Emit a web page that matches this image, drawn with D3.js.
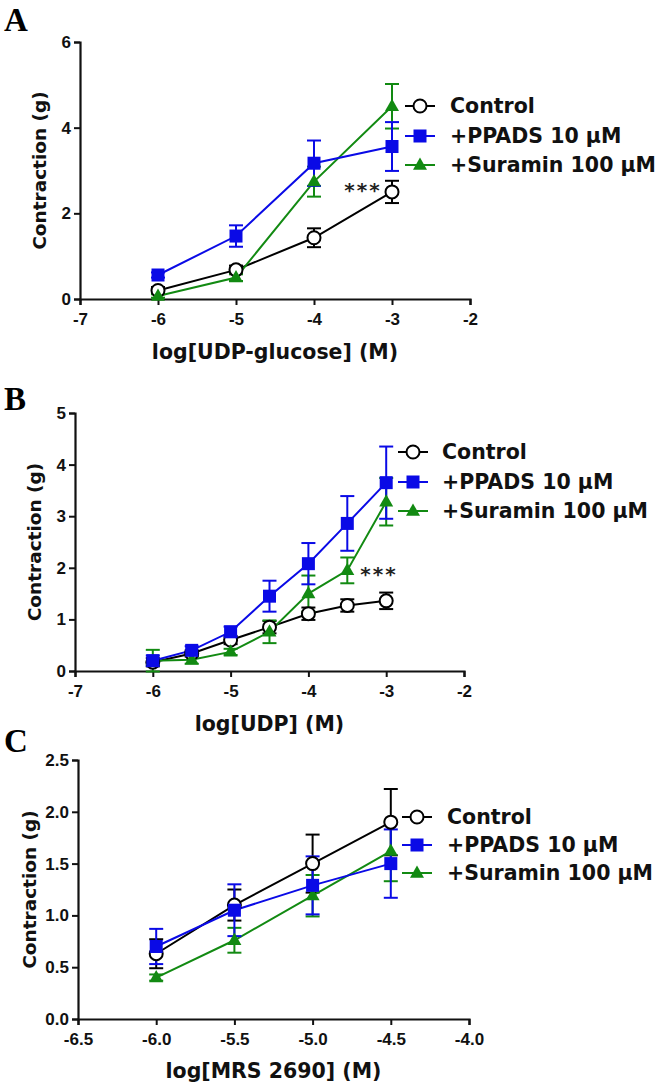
<!DOCTYPE html>
<html><head><meta charset="utf-8">
<script src="https://cdn.jsdelivr.net/npm/d3@7"></script>
<style>body{margin:0;background:#fff}svg{display:block}</style>
</head><body>
<svg id="c" width="670" height="1086"></svg>
<script>
// ---- data ----
const seriesNames = ["Control", "+PPADS 10 µM", "+Suramin 100 µM"];
// Panel A: log[UDP-glucose]
const aX = [-6, -5, -4, -3];
const aControl = [0.2, 0.68, 1.43, 2.5];
const aControlErr = [0.08, 0.1, 0.22, 0.26];
const aPPADS = [0.56, 1.47, 3.17, 3.56];
const aPPADSErr = [0.06, 0.25, 0.53, 0.57];
const aSuramin = [0.07, 0.5, 2.74, 4.5];
const aSuraminErr = [0.04, 0.08, 0.35, 0.52];
const aYTicks = [0, 2, 4, 6];
const aXTicks = [-7, -6, -5, -4, -3, -2];
// Panel B: log[UDP]
const bX = [-6, -5.5, -5, -4.5, -4, -3.5, -3];
const bControl = [0.17, 0.34, 0.6, 0.85, 1.11, 1.27, 1.36];
const bControlErr = [0.08, 0.06, 0.08, 0.12, 0.12, 0.12, 0.16];
const bPPADS = [0.2, 0.4, 0.76, 1.45, 2.08, 2.86, 3.65];
const bPPADSErr = [0.1, 0.08, 0.1, 0.3, 0.4, 0.53, 0.7];
const bSuramin = [0.2, 0.22, 0.37, 0.76, 1.5, 1.95, 3.28];
const bSuraminErr = [0.21, 0.08, 0.06, 0.22, 0.35, 0.25, 0.46];
const bYTicks = [0, 1, 2, 3, 4, 5];
const bXTicks = [-7, -6, -5, -4, -3, -2];
// Panel C: log[MRS 2690]
const cX = [-6, -5.5, -5, -4.5];
const cControl = [0.63, 1.1, 1.5, 1.9];
const cControlErr = [0.14, 0.15, 0.28, 0.32];
const cPPADS = [0.7, 1.05, 1.29, 1.5];
const cPPADSErr = [0.17, 0.25, 0.28, 0.33];
const cSuramin = [0.4, 0.76, 1.19, 1.62];
const cSuraminErr = [0.03, 0.12, 0.2, 0.29];
const cYTicks = [0, 0.5, 1.0, 1.5, 2.0, 2.5];
const cXTicks = [-6.5, -6.0, -5.5, -5.0, -4.5, -4.0];

// ---- layout / styling ----
const colors = ["#000000", "#0a0ae6", "#128a12"];
const shapes = ["circle", "square", "triangle"];
const FONT = "'DejaVu Sans', Verdana, sans-serif";
const TFONT = "'Liberation Sans', Arial, sans-serif";
const svg = d3.select("#c");
const hy = f => v => f(v).replace("\u2212", "-");

const panels = [
  {letter:"A", letterY:31, xDom:[-7,-2], yDom:[0,6], xr:[80,470], yr:[299,42],
   xt:aXTicks, yt:aYTicks, yfmt:hy(d3.format("d")), xfmt:hy(d3.format("d")),
   xTitle:"log[UDP-glucose] (M)", xTitleY:359, yTitleX:40,
   x:aX, s:[[aControl,aControlErr],[aPPADS,aPPADSErr],[aSuramin,aSuraminErr]],
   leg:{x1:405,x2:435,tx:450,ys:[106,136,165]}, star:{x:363,y:197}},
  {letter:"B", letterY:410, xDom:[-7,-2], yDom:[0,5], xr:[75,464], yr:[671,413],
   xt:bXTicks, yt:bYTicks, yfmt:hy(d3.format("d")), xfmt:hy(d3.format("d")),
   xTitle:"log[UDP] (M)", xTitleY:731, yTitleX:35,
   x:bX, s:[[bControl,bControlErr],[bPPADS,bPPADSErr],[bSuramin,bSuraminErr]],
   leg:{x1:398,x2:428,tx:442,ys:[452,482,511]}, star:{x:379,y:581}},
  {letter:"C", letterY:752, xDom:[-6.5,-4.0], yDom:[0,2.5], xr:[78,469], yr:[1019,760],
   xt:cXTicks, yt:cYTicks, yfmt:hy(d3.format(".1f")), xfmt:hy(d3.format(".1f")),
   xTitle:"log[MRS 2690] (M)", xTitleY:1078, yTitleX:30,
   x:cX, s:[[cControl,cControlErr],[cPPADS,cPPADSErr],[cSuramin,cSuraminErr]],
   leg:{x1:402,x2:432,tx:447,ys:[817,845,873]}, star:null}
];

function marker(g, shape, cx, cy, color){
  if(shape==="circle"){
    g.append("circle").attr("cx",cx).attr("cy",cy).attr("r",6.5)
      .attr("fill","#fff").attr("stroke",color).attr("stroke-width",2);
  } else if(shape==="square"){
    g.append("rect").attr("x",cx-6.5).attr("y",cy-6.5).attr("width",13).attr("height",13)
      .attr("fill",color);
  } else {
    const s=14, h=s*0.87;
    g.append("path").attr("d",`M${cx},${cy-h*0.62}L${cx+s/2},${cy+h*0.38}L${cx-s/2},${cy+h*0.38}Z`)
      .attr("fill",color);
  }
}

panels.forEach(p=>{
  const g = svg.append("g");
  const x = d3.scaleLinear().domain(p.xDom).range(p.xr);
  const y = d3.scaleLinear().domain(p.yDom).range(p.yr);

  g.append("text").attr("x",4).attr("y",p.letterY).text(p.letter)
    .attr("font-family","'Liberation Serif','Times New Roman',serif").attr("font-weight","bold")
    .attr("font-size",33);

  const xa = g.append("g").attr("transform",`translate(0,${p.yr[0]})`)
    .call(d3.axisBottom(x).tickValues(p.xt).tickFormat(p.xfmt).tickSizeOuter(0).tickSize(6).tickPadding(8));
  const ya = g.append("g").attr("transform",`translate(${p.xr[0]},0)`)
    .call(d3.axisLeft(y).tickValues(p.yt).tickFormat(p.yfmt).tickSizeOuter(0).tickSize(6).tickPadding(3));
  [xa,ya].forEach(a=>{
    a.attr("font-size",17).attr("font-family",TFONT);
    a.selectAll(".domain").attr("stroke","#111").attr("stroke-width",2.2);
    a.selectAll(".tick line").attr("stroke","#111").attr("stroke-width",2);
    a.selectAll("text").style("font-family",TFONT).style("font-weight","bold")
      .style("font-size","17px").attr("fill","#111");
  });

  g.append("text").attr("x",(p.xr[0]+p.xr[1])/2).attr("y",p.xTitleY)
    .attr("text-anchor","middle").attr("font-family",FONT).attr("font-weight","bold")
    .attr("font-size",20.5).attr("fill","#111").text(p.xTitle);
  g.append("text").attr("transform",`translate(${p.yTitleX},${(p.yr[0]+p.yr[1])/2}) rotate(-90)`)
    .attr("text-anchor","middle").attr("dy","0.35em").attr("font-family",FONT).attr("font-weight","bold")
    .attr("font-size",18.5).attr("fill","#111").text("Contraction (g)");

  const order = [0,2,1];
  const line = d3.line().x(d=>x(d[0])).y(d=>y(d[1]));
  order.forEach(i=>{
    const [vals, errs] = p.s[i];
    const pts = p.x.map((xv,k)=>[xv, vals[k], errs[k]]);
    const sg = g.append("g");
    sg.append("path").attr("d",line(pts)).attr("fill","none").attr("stroke",colors[i]).attr("stroke-width",2);
    pts.forEach(d=>{
      const cx=x(d[0]), y1=y(d[1]-d[2]), y2=y(d[1]+d[2]);
      sg.append("line").attr("x1",cx).attr("x2",cx).attr("y1",y1).attr("y2",y2).attr("stroke",colors[i]).attr("stroke-width",2);
      [y1,y2].forEach(yy=>sg.append("line").attr("x1",cx-7).attr("x2",cx+7).attr("y1",yy).attr("y2",yy)
        .attr("stroke",colors[i]).attr("stroke-width",2));
    });
  });
  order.forEach(i=>{
    const [vals] = p.s[i];
    p.x.forEach((xv,k)=>marker(g, shapes[i], x(xv), y(vals[k]), colors[i]));
  });

  if(p.star){
    g.append("text").attr("x",p.star.x).attr("y",p.star.y).attr("text-anchor","middle")
      .attr("font-family",FONT).attr("font-weight","bold").attr("letter-spacing",2)
      .attr("font-size",20).attr("fill","#222").text("***");
  }

  // legend
  seriesNames.forEach((name,i)=>{
    const ly = p.leg.ys[i];
    g.append("line").attr("x1",p.leg.x1).attr("x2",p.leg.x2).attr("y1",ly).attr("y2",ly)
      .attr("stroke",colors[i]).attr("stroke-width",2);
    marker(g, shapes[i], (p.leg.x1+p.leg.x2)/2, ly, colors[i]);
    g.append("text").attr("x",p.leg.tx).attr("y",ly).attr("dy","0.36em")
      .attr("font-family",FONT).attr("font-weight","bold").attr("font-size",20.5).attr("fill","#111").text(name);
  });
});
</script>
</body></html>
